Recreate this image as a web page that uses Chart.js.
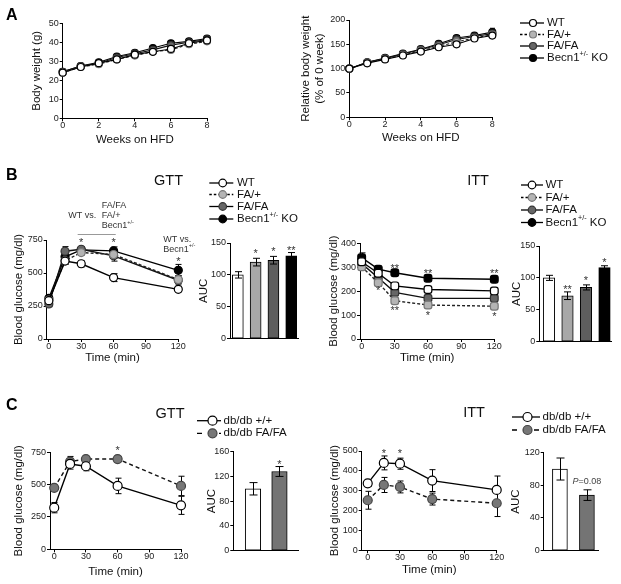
<!DOCTYPE html>
<html><head><meta charset="utf-8">
<script src="https://cdn.jsdelivr.net/npm/chart.js@4.4.1/dist/chart.umd.min.js"></script>
<style>
html,body{margin:0;padding:0;background:#fff;}
#wrap{position:relative;width:621px;height:584px;overflow:hidden;background:#fff;}
#wrap canvas{position:absolute;}
</style></head><body><div id="wrap"></div>
<script>
// ================= DATA =================
const groupNames = ['WT', 'FA/+', 'FA/FA', 'Becn1+/- KO'];
const dbNames = ['db/db +/+', 'db/db FA/FA'];

// Panel A: body weight
const weeks = [0, 1, 2, 3, 4, 5, 6, 7, 8];
const bwWT   = [24, 27, 29, 31, 33.5, 35, 36.5, 39.5, 41];
const bwFAp  = [24, 27, 28.5, 31, 33, 35, 36, 39, 40.5];
const bwFAFA = [24.5, 27.5, 29, 32, 34, 36, 38.5, 40, 41.5];
const bwBecn = [24.5, 27.5, 29.5, 32.5, 34.5, 37, 39.5, 40.5, 42];
const bwErr  = [0.8, 0.8, 0.8, 0.8, 0.8, 0.9, 1, 1, 1];
const relWT   = [100, 111, 119, 127, 135, 144, 150, 162, 168];
const relFAp  = [100, 112, 120, 128, 137, 146, 155, 163, 170];
const relFAFA = [100, 113, 121, 130, 139, 149, 160, 166, 172];
const relBecn = [100, 113, 122, 131, 140, 151, 163, 168, 175];
const relErr  = [1, 2, 2, 3, 3, 4, 5, 5, 8];
const bwTicks = [0, 10, 20, 30, 40, 50];
const relTicks = [0, 50, 100, 150, 200];
const weekTicks = [0, 2, 4, 6, 8];

// Panel B: GTT / ITT
const times = [0, 15, 30, 60, 120];
const timeTicks = [0, 30, 60, 90, 120];
const gttWT   = [290, 590, 570, 465, 376];
const gttFAp  = [295, 593, 655, 640, 450];
const gttFAFA = [265, 665, 680, 630, 445];
const gttBecn = [308, 623, 675, 668, 520];
const gttErrWT   = [20, 25, 25, 30, 20];
const gttErrFAp  = [20, 25, 20, 30, 30];
const gttErrFAFA = [20, 35, 20, 40, 35];
const gttErrBecn = [20, 30, 20, 30, 45];
const gttTicks = [0, 250, 500, 750];
const gttAUC = [100, 120, 123, 130];
const gttAUCErr = [5, 6, 6, 5];
const aucTicksB = [0, 50, 100, 150];

const ittWT   = [323, 275, 222, 207, 201];
const ittFAp  = [302, 235, 160, 142, 137];
const ittFAFA = [315, 256, 195, 170, 170];
const ittBecn = [340, 292, 277, 254, 250];
const ittErrWT   = [15, 10, 8, 8, 8];
const ittErrFAp  = [10, 12, 10, 8, 8];
const ittErrFAFA = [12, 10, 10, 8, 8];
const ittErrBecn = [20, 8, 8, 8, 8];
const ittTicks = [0, 100, 200, 300, 400];
const ittAUC = [100, 72, 85, 116];
const ittAUCErr = [4, 6, 4, 3];

// Panel C: db/db
const cGttWT = [322, 660, 642, 490, 340];
const cGttFA = [475, 678, 698, 698, 490];
const cGttErrWT = [40, 40, 35, 60, 70];
const cGttErrFA = [20, 40, 20, 20, 75];
const cGttAUC = [100, 128];
const cGttAUCErr = [10, 8];
const aucTicksC1 = [0, 40, 80, 120, 160];

const cIttWT = [337, 440, 436, 351, 304];
const cIttFA = [252, 329, 319, 258, 237];
const cIttErrWT = [15, 35, 28, 55, 70];
const cIttErrFA = [45, 38, 30, 30, 67];
const cIttTicks = [0, 100, 200, 300, 400, 500];
const cIttAUC = [100, 68];
const cIttAUCErr = [13.5, 6.5];
const aucTicksC2 = [0, 40, 80, 120];

// significance marks (data coordinates)
const gttStars = [{x: 30, y: 750, s: '*'}, {x: 60, y: 750, s: '*'}, {x: 120, y: 604, s: '*'}];
const gttAucStars = [{x: 2, y: 138, s: '*'}, {x: 3, y: 140, s: '*'}, {x: 4, y: 143, s: '**'}];
const ittStars = [{x: 30, y: 305, s: '**'}, {x: 60, y: 283, s: '**'}, {x: 120, y: 283, s: '**'},
                  {x: 15, y: 212, s: '*'}, {x: 30, y: 131, s: '**'}, {x: 60, y: 110, s: '*'}, {x: 120, y: 103, s: '*'}];
const ittAucStars = [{x: 2, y: 86, s: '**'}, {x: 3, y: 100, s: '*'}, {x: 4, y: 128, s: '*'}];
const cGttStars = [{x: 60, y: 783, s: '*'}];
const cGttAucStars = [{x: 2, y: 144, s: '*'}];
const cIttStars = [{x: 15, y: 500, s: '*'}, {x: 30, y: 500, s: '*'}];

// ================= LAYOUT =================
const FONT = '"Liberation Sans", Arial, Helvetica, sans-serif';
Chart.defaults.font.family = FONT;
Chart.defaults.color = '#222';
const TICK_FONT = {size: 9, family: FONT};
const TITLE_SIZE = 11.5;
const TITLE_FONT = {size: TITLE_SIZE, lineHeight: 1.2, family: FONT};
const OFF = TITLE_SIZE * 1.2 / 2;

const LAYOUT = {
  A1: {l: 62.7, t: 23.3, r: 207, b: 118.3, ytx: 36.7, xty: 140},
  A2: {l: 349.3, t: 20, r: 492.3, b: 117.3, ytx: 306, xty: 138},
  B1: {l: 46.7, t: 240, r: 178.3, b: 339, ytx: 19, xty: 358, pt: 50, pr: 24},
  B2: {l: 230, t: 243, r: 298, b: 339, ytx: 204},
  B3: {l: 360, t: 243.3, r: 494.3, b: 339, ytx: 333.5, xty: 358},
  B4: {l: 539.3, t: 246, r: 611.7, b: 341.7, ytx: 516.7},
  C1: {l: 50, t: 452.3, r: 181, b: 549.3, ytx: 19, xty: 571.7},
  C2: {l: 233.3, t: 451.7, r: 298, b: 550.7, ytx: 211.7},
  C3: {l: 361.7, t: 451, r: 496.7, b: 550.3, ytx: 334.5, xty: 570},
  C4: {l: 543.7, t: 452.7, r: 598, b: 550.7, ytx: 516}
};

const wrap = document.getElementById('wrap');
const ANN = new Map();

function makeCanvas(L) {
  const cl = Math.round(L.ytx - OFF);
  const ct = Math.round(L.t - (L.pt != null ? L.pt : 14));
  const cr = Math.round(L.r + (L.pr != null ? L.pr : 10));
  const cb = Math.round(L.xty != null ? L.xty + OFF : L.b + 6);
  const c = document.createElement('canvas');
  c.width = cr - cl; c.height = cb - ct;
  c.style.left = cl + 'px'; c.style.top = ct + 'px';
  c.style.width = c.width + 'px'; c.style.height = c.height + 'px';
  wrap.appendChild(c);
  return {canvas: c, yw: L.l - cl, xh: cb - L.b, pt: L.t - ct, pr: cr - L.r};
}

function yScale(g, min, max, ticks, title) {
  return {
    type: 'linear', min, max,
    afterFit: s => { s.width = g.yw; },
    afterBuildTicks: s => { s.ticks = ticks.map(v => ({value: v})); },
    ticks: {font: TICK_FONT, color: '#222', padding: 1},
    grid: {display: true, drawOnChartArea: false, drawTicks: true, tickLength: 3, color: '#000', lineWidth: 1},
    border: {display: true, color: '#000', width: 1},
    title: {display: true, text: title, font: TITLE_FONT, color: '#111', padding: 0}
  };
}
function xScale(g, min, max, ticks, title) {
  const sc = {
    type: 'linear', min, max, offset: false,
    afterFit: s => { s.height = g.xh; },
    border: {display: true, color: '#000', width: 1}
  };
  if (ticks) {
    sc.afterBuildTicks = s => { s.ticks = ticks.map(v => ({value: v})); };
    sc.ticks = {font: TICK_FONT, color: '#222', padding: -1, maxRotation: 0, autoSkip: false};
    sc.grid = {display: true, drawOnChartArea: false, drawTicks: true, tickLength: 3, color: '#000', lineWidth: 1};
  } else {
    sc.ticks = {display: false};
    sc.grid = {display: false};
  }
  sc.title = title ? {display: true, text: title, font: TITLE_FONT, color: '#111', padding: 0} : {display: false};
  return sc;
}

// ---- plugin: error bars + annotations ----
function drawErr(chart, cap) {
  const ctx = chart.ctx, ys = chart.scales.y;
  chart.data.datasets.forEach((ds, i) => {
    if (!ds.errors) return;
    const meta = chart.getDatasetMeta(i);
    ctx.save();
    ctx.strokeStyle = '#000'; ctx.lineWidth = 1; ctx.setLineDash([]);
    meta.data.forEach((el, j) => {
      const e = ds.errors[j]; if (!e) return;
      const v = ds.data[j].y;
      const x = Math.round(el.x) + 0.5;
      const yT = ys.getPixelForValue(v + e), yB = ys.getPixelForValue(v - e);
      ctx.beginPath();
      ctx.moveTo(x, yT); ctx.lineTo(x, yB);
      ctx.moveTo(x - cap, yT); ctx.lineTo(x + cap, yT);
      ctx.moveTo(x - cap, yB); ctx.lineTo(x + cap, yB);
      ctx.stroke();
    });
    ctx.restore();
  });
}
function drawRich(ctx, text, x, y, size, align) {
  // supports "Becn1+/-" superscript
  const m = /^(.*?Becn1)(\+\/-)(.*)$/.exec(text);
  const parts = m ? [[m[1], size, 0], [m[2], size * 0.62, -size * 0.38], [m[3], size, 0]] : [[text, size, 0]];
  let w = 0;
  parts.forEach(p => { ctx.font = `${p[1]}px ${FONT}`; w += ctx.measureText(p[0]).width; });
  let cx = align === 'center' ? x - w / 2 : x;
  ctx.textAlign = 'left';
  parts.forEach(p => { ctx.font = `${p[1]}px ${FONT}`; ctx.fillText(p[0], cx, y + p[2]); cx += ctx.measureText(p[0]).width; });
}
function drawAnn(chart) {
  const list = ANN.get(chart.canvas); if (!list) return;
  const ctx = chart.ctx, xs = chart.scales.x, ys = chart.scales.y;
  ctx.save();
  list.forEach(a => {
    if (a.type === 'line') {
      ctx.strokeStyle = a.color || '#999'; ctx.lineWidth = 1;
      const y = Math.round(ys.getPixelForValue(a.y)) + 0.5;
      ctx.beginPath(); ctx.moveTo(xs.getPixelForValue(a.x1), y); ctx.lineTo(xs.getPixelForValue(a.x2), y); ctx.stroke();
    } else if (a.type === 'star') {
      const size = 11;
      ctx.fillStyle = '#333'; ctx.textBaseline = 'alphabetic';
      ctx.font = `${size}px ${FONT}`; ctx.textAlign = 'center';
      ctx.fillText(a.s, xs.getPixelForValue(a.x), ys.getPixelForValue(a.y) + size * 0.55);
    } else if (a.type === 'text') {
      ctx.fillStyle = a.color || '#333'; ctx.textBaseline = 'middle';
      drawRich(ctx, a.text, xs.getPixelForValue(a.x), ys.getPixelForValue(a.y), a.size || 9, a.align || 'left');
    } else if (a.type === 'pval') {
      ctx.fillStyle = '#444'; ctx.textBaseline = 'middle';
      const size = 9;
      ctx.font = `italic ${size}px ${FONT}`; const w1 = ctx.measureText(a.p).width;
      ctx.font = `${size}px ${FONT}`; const w2 = ctx.measureText(a.rest).width;
      let x = xs.getPixelForValue(a.x) - (w1 + w2) / 2, y = ys.getPixelForValue(a.y);
      ctx.textAlign = 'left';
      ctx.font = `italic ${size}px ${FONT}`; ctx.fillText(a.p, x, y);
      ctx.font = `${size}px ${FONT}`; ctx.fillText(a.rest, x + w1, y);
    }
  });
  ctx.restore();
}
const annPlugin = {
  id: 'annErr',
  beforeDatasetsDraw(chart) { if (chart.config.type === 'line') drawErr(chart, chart.$cap || 3); },
  afterDatasetsDraw(chart) { if (chart.config.type === 'bar') drawErr(chart, chart.$cap || 3); },
  afterDraw(chart) { drawAnn(chart); }
};
Chart.register(annPlugin);

const ST = {
  wt:   {borderColor: '#000', pointBackgroundColor: '#fff', pointBorderColor: '#000'},
  fap:  {borderColor: '#222', borderDash: [3, 2], pointBackgroundColor: '#b4b4b4', pointBorderColor: '#777'},
  fafa: {borderColor: '#111', pointBackgroundColor: '#666', pointBorderColor: '#333'},
  becn: {borderColor: '#000', pointBackgroundColor: '#000', pointBorderColor: '#000'},
  dbwt: {borderColor: '#000', pointBackgroundColor: '#fff', pointBorderColor: '#000'},
  dbfa: {borderColor: '#111', borderDash: [4, 3], pointBackgroundColor: '#777', pointBorderColor: '#444'}
};

function lineDS(label, xs, ys, errs, st, extra) {
  return Object.assign({label, data: xs.map((x, i) => ({x, y: ys[i]})), errors: errs, clip: false,
    tension: 0, borderWidth: 1.3, pointBorderWidth: 1.2, fill: false}, ST[st], extra);
}

function lineChart(key, datasets, xr, xt, yr, yt, ytitle, xtitle, ann, cap) {
  const g = makeCanvas(LAYOUT[key]);
  if (ann) ANN.set(g.canvas, ann);
  const ch = new Chart(g.canvas, {
    type: 'line',
    data: {datasets},
    options: {
      responsive: false, animation: false, devicePixelRatio: 1,
      layout: {padding: {left: 0, top: g.pt, right: g.pr, bottom: 0}},
      plugins: {legend: {display: false}, tooltip: {enabled: false}},
      scales: {x: xScale(g, xr[0], xr[1], xt, xtitle), y: yScale(g, yr[0], yr[1], yt, ytitle)}
    },
    plugins: [{id: 'cap', beforeInit(c) { c.$cap = cap; }}]
  });
  return ch;
}

function barChart(key, vals, errs, colors, xr, yr, yt, bt, ann, cap) {
  const g = makeCanvas(LAYOUT[key]);
  if (ann) ANN.set(g.canvas, ann);
  return new Chart(g.canvas, {
    type: 'bar',
    data: {datasets: [{label: 'AUC', data: vals.map((v, i) => ({x: i + 1, y: v})), errors: errs,
      backgroundColor: colors, borderColor: '#000', borderWidth: 1, borderSkipped: false, barThickness: bt}]},
    options: {
      responsive: false, animation: false, devicePixelRatio: 1,
      layout: {padding: {left: 0, top: g.pt, right: g.pr, bottom: 0}},
      plugins: {legend: {display: false}, tooltip: {enabled: false}},
      scales: {x: xScale(g, xr[0], xr[1], null, null), y: yScale(g, yr[0], yr[1], yt, 'AUC')}
    },
    plugins: [{id: 'cap', beforeInit(c) { c.$cap = cap; }}]
  });
}

const sA = {pointRadius: 3.5, borderWidth: 1.1};
const sB = {pointRadius: 4, borderWidth: 1.4};
const sBi = {pointRadius: 4.5, pointStyle: 'rectRounded', borderWidth: 1.4};
const sC = {pointRadius: 4.5, borderWidth: 1.4};
const starsAnn = arr => arr.map(s => Object.assign({type: 'star'}, s));

// ---- Panel A ----
lineChart('A1', [
  lineDS(groupNames[0], weeks, bwWT, null, 'wt', sA),
  lineDS(groupNames[1], weeks, bwFAp, null, 'fap', sA),
  lineDS(groupNames[2], weeks, bwFAFA, null, 'fafa', sA),
  lineDS(groupNames[3], weeks, bwBecn, bwErr, 'becn', sA)
], [0, 8], weekTicks, [0, 50], bwTicks, 'Body weight (g)', 'Weeks on HFD', null, 2.5);

lineChart('A2', [
  lineDS(groupNames[0], weeks, relWT, null, 'wt', sA),
  lineDS(groupNames[1], weeks, relFAp, null, 'fap', sA),
  lineDS(groupNames[2], weeks, relFAFA, null, 'fafa', sA),
  lineDS(groupNames[3], weeks, relBecn, relErr, 'becn', sA)
], [0, 8], weekTicks, [0, 200], relTicks, ['Relative body weight', '(% of 0 week)'], 'Weeks on HFD', null, 2.5);

// ---- Panel B ----
lineChart('B1', [
  lineDS(groupNames[0], times, gttWT, gttErrWT, 'wt', sB),
  lineDS(groupNames[1], times, gttFAp, gttErrFAp, 'fap', sB),
  lineDS(groupNames[2], times, gttFAFA, gttErrFAFA, 'fafa', sB),
  lineDS(groupNames[3], times, gttBecn, gttErrBecn, 'becn', sB)
], [-2, 120], timeTicks, [0, 750], gttTicks, 'Blood glucose (mg/dl)', 'Time (min)', [
  {type: 'text', x: 18, y: 939, text: 'WT vs.'},
  {type: 'text', x: 49, y: 1015, text: 'FA/FA'},
  {type: 'text', x: 49, y: 934, text: 'FA/+'},
  {type: 'text', x: 49, y: 859, text: 'Becn1+/-'},
  {type: 'line', x1: 26.7, x2: 62, y: 795, color: '#999'},
  {type: 'text', x: 106, y: 750, text: 'WT vs.'},
  {type: 'text', x: 106, y: 680, text: 'Becn1+/-'}
].concat(starsAnn(gttStars)), 3);

barChart('B2', gttAUC, gttAUCErr, ['#ffffff', '#a8a8a8', '#5e5e5e', '#000000'],
  [0.56, 4.38], [0, 150], aucTicksB, 11, starsAnn(gttAucStars), 3.5);

lineChart('B3', [
  lineDS(groupNames[0], times, ittWT, ittErrWT, 'wt', sBi),
  lineDS(groupNames[1], times, ittFAp, ittErrFAp, 'fap', sBi),
  lineDS(groupNames[2], times, ittFAFA, ittErrFAFA, 'fafa', sBi),
  lineDS(groupNames[3], times, ittBecn, ittErrBecn, 'becn', sBi)
], [-1.5, 120], timeTicks, [0, 400], ittTicks, 'Blood glucose (mg/dl)', 'Time (min)', starsAnn(ittStars), 3);

barChart('B4', ittAUC, ittAUCErr, ['#ffffff', '#a8a8a8', '#5e5e5e', '#000000'],
  [0.476, 4.39], [0, 150], aucTicksB, 11.5, starsAnn(ittAucStars), 3.5);

// ---- Panel C ----
lineChart('C1', [
  lineDS(dbNames[0], times, cGttWT, cGttErrWT, 'dbwt', sC),
  lineDS(dbNames[1], times, cGttFA, cGttErrFA, 'dbfa', sC)
], [-4, 120], timeTicks, [0, 750], gttTicks, 'Blood glucose (mg/dl)', 'Time (min)', starsAnn(cGttStars), 3);

barChart('C2', cGttAUC, cGttAUCErr, ['#ffffff', '#747474'],
  [0.257, 2.70], [0, 160], aucTicksC1, 15.5, starsAnn(cGttAucStars), 4);

lineChart('C3', [
  lineDS(dbNames[0], times, cIttWT, cIttErrWT, 'dbwt', sC),
  lineDS(dbNames[1], times, cIttFA, cIttErrFA, 'dbfa', sC)
], [-5.6, 120], timeTicks, [0, 500], cIttTicks, 'Blood glucose (mg/dl)', 'Time (min)', starsAnn(cIttStars), 3);

barChart('C4', cIttAUC, cIttAUCErr, ['#ffffff', '#747474'],
  [0.4, 2.41], [0, 120], aucTicksC2, 15, [{type: 'pval', x: 2, y: 85, p: 'P', rest: '=0.08'}], 4);

// ================= OVERLAY: letters, titles, legends =================
const ov = document.createElement('canvas');
ov.width = 621; ov.height = 584;
ov.style.left = '0px'; ov.style.top = '0px'; ov.style.zIndex = 10;
wrap.appendChild(ov);
const octx = ov.getContext('2d');
octx.fillStyle = '#000'; octx.textBaseline = 'middle'; octx.textAlign = 'left';
octx.font = `bold 16px ${FONT}`;
[['A', 6, 15.5], ['B', 6, 175.5], ['C', 6, 405.5]].forEach(t => octx.fillText(t[0], t[1], t[2]));
octx.font = `14.5px ${FONT}`; octx.textAlign = 'center'; octx.fillStyle = '#111';
[['GTT', 168.5, 181], ['ITT', 478, 180.5], ['GTT', 170, 413.5], ['ITT', 474, 413]].forEach(t => octx.fillText(t[0], t[1], t[2]));

function legend(spec, names, styles) {
  names.forEach((nm, i) => {
    const st = ST[styles[i]];
    const y = spec.ys[i];
    octx.save();
    octx.strokeStyle = '#000'; octx.lineWidth = 1.3;
    octx.setLineDash(st.borderDash ? spec.dash : []);
    octx.beginPath(); octx.moveTo(spec.x0, y); octx.lineTo(spec.x1, y); octx.stroke();
    octx.setLineDash([]);
    octx.beginPath(); octx.arc(spec.xm, y, spec.r, 0, Math.PI * 2);
    octx.fillStyle = st.pointBackgroundColor; octx.fill();
    octx.strokeStyle = st.pointBorderColor; octx.lineWidth = 1.2; octx.stroke();
    octx.fillStyle = '#111'; octx.textBaseline = 'middle';
    drawRich(octx, nm, spec.xt, y, 11.5, 'left');
    octx.restore();
  });
}
const gStyles = ['wt', 'fap', 'fafa', 'becn'];
legend({x0: 520, xm: 533, x1: 544, xt: 547, r: 3.5, ys: [23, 34.5, 46, 58], dash: [2.5, 2]}, groupNames, gStyles);
legend({x0: 209.3, xm: 222.7, x1: 233.3, xt: 237, r: 3.8, ys: [183, 194.5, 206.5, 219], dash: [2.5, 2]}, groupNames, gStyles);
legend({x0: 521, xm: 532, x1: 543, xt: 545.5, r: 3.8, ys: [185, 197.5, 210, 222.5], dash: [2.5, 2]}, groupNames, gStyles);
legend({x0: 197, xm: 212.5, x1: 221, xt: 223.5, r: 4.5, ys: [420.7, 433.3], dash: [5, 6]}, dbNames, ['dbwt', 'dbfa']);
legend({x0: 512, xm: 527.5, x1: 540, xt: 542.5, r: 4.5, ys: [417, 430], dash: [5, 6]}, dbNames, ['dbwt', 'dbfa']);
</script></body></html>
